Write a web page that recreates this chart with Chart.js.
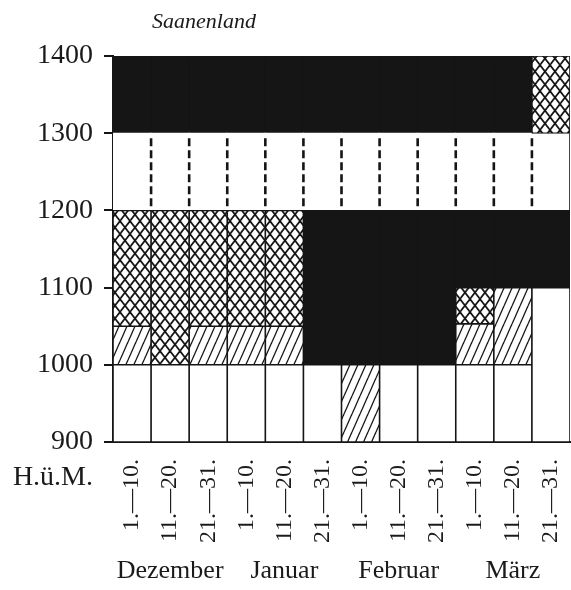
<!DOCTYPE html>
<html>
<head>
<meta charset="utf-8">
<script src="https://cdn.jsdelivr.net/npm/chart.js@4.4.1/dist/chart.umd.min.js"></script>
<style>
html,body{margin:0;padding:0;background:#fff;}
#wrap{position:relative;width:571px;height:590px;}
#title{position:absolute;left:152px;top:10px;font:italic 22px 'Liberation Serif',serif;line-height:22px;color:#1a1a1a;white-space:nowrap;}
#unit{position:absolute;left:0;width:93px;top:462px;text-align:right;font:28px 'Liberation Serif',serif;line-height:28px;color:#1a1a1a;white-space:nowrap;}
canvas{position:absolute;left:0;top:0;}
</style>
</head>
<body>
<div id="wrap">
<canvas id="c" width="571" height="590"></canvas>
<div id="title">Saanenland</div>
<div id="unit">H.ü.M.</div>
</div>
<script>
// ---- data (metres above sea level, H.ü.M.) ----
const periods = ['1.—10.','11.—20.','21.—31.','1.—10.','11.—20.','21.—31.','1.—10.','11.—20.','21.—31.','1.—10.','11.—20.','21.—31.'];
const months = ['Dezember','Januar','Februar','März'];
const yTicks = [900,1000,1100,1200,1300,1400];

const whiteLow = [[900,1000],[900,1000],[900,1000],[900,1000],[900,1000],[900,1000],null,[900,1000],[900,1000],[900,1000],[900,1000],[900,1100]];
const hatched  = [[1000,1050],null,[1000,1050],[1000,1050],[1000,1050],null,[900,1000],null,null,[1000,1053],[1000,1100],null];
const crossed  = [[1050,1200],[1000,1200],[1050,1200],[1050,1200],[1050,1200],null,null,null,null,[1053,1100],null,[1300,1400]];
const blackLow = [null,null,null,null,null,[1000,1200],[1000,1200],[1000,1200],[1000,1200],[1100,1200],[1100,1200],[1100,1200]];
const whiteMid = [[1200,1300],[1200,1300],[1200,1300],[1200,1300],[1200,1300],[1200,1300],[1200,1300],[1200,1300],[1200,1300],[1200,1300],[1200,1300],[1200,1300]];
const blackTop = [[1300,1400],[1300,1400],[1300,1400],[1300,1400],[1300,1400],[1300,1400],[1300,1400],[1300,1400],[1300,1400],[1300,1400],[1300,1400],null];

const monthLabels = periods.map((p, i) => (i % 3 === 1 ? months[(i - 1) / 3] : ''));

const INK = '#151515';
const FONT = "'Liberation Serif', 'Times New Roman', serif";

function makeHatch() {
  const c = document.createElement('canvas');
  const w = 8, h = 18;
  c.width = w; c.height = h;
  const g = c.getContext('2d');
  g.fillStyle = '#fff'; g.fillRect(0, 0, w, h);
  g.strokeStyle = INK; g.lineWidth = 1.3;
  for (const o of [-w, 0, w]) {
    g.beginPath(); g.moveTo(o, h); g.lineTo(o + w, 0); g.stroke();
  }
  return g.createPattern(c, 'repeat');
}
function makeCross() {
  const c = document.createElement('canvas');
  const w = 10, h = 13;
  c.width = w; c.height = h;
  const g = c.getContext('2d');
  g.fillStyle = '#fff'; g.fillRect(0, 0, w, h);
  g.strokeStyle = INK; g.lineWidth = 1.7;
  for (const o of [-w, 0, w]) {
    g.beginPath(); g.moveTo(o, h); g.lineTo(o + w, 0); g.stroke();
    g.beginPath(); g.moveTo(o, 0); g.lineTo(o + w, h); g.stroke();
  }
  return g.createPattern(c, 'repeat');
}
const hatchPat = makeHatch();
const crossPat = makeCross();

function ds(data, bg, bw) {
  return {
    data: data, backgroundColor: bg, borderColor: INK, borderWidth: bw,
    borderSkipped: false, grouped: false, categoryPercentage: 1, barPercentage: 1,
    inflateAmount: 0.5
  };
}

const dashPlugin = {
  id: 'dashes',
  afterDatasetsDraw(chart) {
    const { ctx, scales: { x, y } } = chart;
    ctx.save();
    ctx.strokeStyle = INK; ctx.lineWidth = 2.6;
    ctx.setLineDash([8, 4]); ctx.lineDashOffset = 8;
    for (let i = 0; i < whiteMid.length - 1; i++) {
      const a = whiteMid[i], b = whiteMid[i + 1];
      if (!a || !b) continue;
      const xp = (x.getPixelForValue(i) + x.getPixelForValue(i + 1)) / 2;
      const top = y.getPixelForValue(Math.min(a[1], b[1]));
      const bot = y.getPixelForValue(Math.max(a[0], b[0]));
      ctx.beginPath(); ctx.moveTo(xp, top + 1); ctx.lineTo(xp, bot - 1); ctx.stroke();
    }
    ctx.restore();
  }
};

function noSidePad(s) { s.paddingLeft = 0; s.paddingRight = 0; }

new Chart(document.getElementById('c'), {
  type: 'bar',
  data: {
    labels: periods,
    datasets: [
      ds(whiteLow, '#ffffff', 1.3),
      ds(hatched, hatchPat, 1.3),
      ds(crossed, crossPat, 1.3),
      ds(blackLow, INK, 1.3),
      ds(whiteMid, '#ffffff', whiteMid.map((v, i) => ({ left: 0, top: 0, bottom: 0, right: i === whiteMid.length - 1 ? 1.3 : 0 }))),
      ds(blackTop, INK, 1.3)
    ]
  },
  options: {
    responsive: false,
    animation: false,
    devicePixelRatio: 1,
    layout: { padding: { top: 56, right: 1, left: 0, bottom: 0 } },
    plugins: { legend: { display: false }, title: { display: false }, tooltip: { enabled: false } },
    scales: {
      x: {
        position: 'bottom', weight: 0,
        grid: { display: false, drawTicks: false },
        border: { display: true, color: INK, width: 2 },
        ticks: { autoSkip: false, minRotation: 90, maxRotation: 90, padding: 17, color: '#1a1a1a', font: { family: FONT, size: 24 } },
        afterFit(s) { s.height = 112; noSidePad(s); }
      },
      xm: {
        type: 'category', labels: monthLabels, position: 'bottom', weight: 1, offset: true,
        grid: { display: false, drawTicks: false },
        border: { display: false },
        ticks: { autoSkip: false, minRotation: 0, maxRotation: 0, padding: 2, color: '#1a1a1a', font: { family: FONT, size: 26 } },
        afterFit(s) { s.height = 36; noSidePad(s); }
      },
      y: {
        min: 900, max: 1400,
        afterBuildTicks(s) { s.ticks = yTicks.map(v => ({ value: v })); },
        grid: { drawOnChartArea: false, drawTicks: true, tickLength: 9, color: INK, lineWidth: 2 },
        border: { display: true, color: INK, width: 2 },
        ticks: { padding: 11, color: '#1a1a1a', font: { family: FONT, size: 28 }, callback: (v) => String(v) },
        afterFit(s) { s.width = 113; s.paddingTop = 0; s.paddingBottom = 0; }
      }
    }
  },
  plugins: [dashPlugin]
});
</script>
</body>
</html>
